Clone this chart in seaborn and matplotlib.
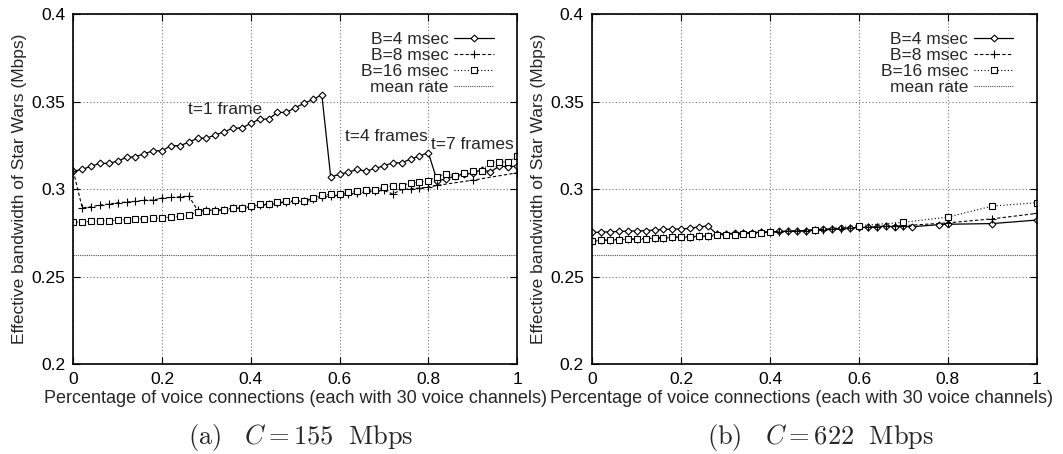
import numpy as np
import pandas as pd
import matplotlib
matplotlib.use("Agg")
import matplotlib.pyplot as plt
from matplotlib.ticker import FuncFormatter
import seaborn as sns

# ---- datos ----
x_dense = [round(0.02 * i, 2) for i in range(51)]

# (a) C = 155 Mbps
a_b4 = [0.3103, 0.3112, 0.3131, 0.3147, 0.3147, 0.3160, 0.3181, 0.3185, 0.3202, 0.3219,
        0.3219, 0.3248, 0.3248, 0.3267, 0.3291, 0.3291, 0.3309, 0.3328, 0.3347, 0.3350,
        0.3375, 0.3400, 0.3400, 0.3438, 0.3438, 0.3465, 0.3490, 0.3512, 0.3539,
        0.3070, 0.3084, 0.3097, 0.3112, 0.3103, 0.3118, 0.3133, 0.3150, 0.3150, 0.3171,
        0.3189, 0.3208,
        0.3048, 0.3057, 0.3075, 0.3085, 0.3090, 0.3110, 0.3099, 0.3131, 0.3128, 0.3131]
a_b8_x = [round(0.02 * i, 2) for i in range(42)] + [0.9, 1.0]
a_b8 = [0.3103, 0.2893, 0.2899, 0.2909, 0.2914, 0.2922, 0.2926, 0.2930, 0.2937, 0.2937,
        0.2949, 0.2952, 0.2956, 0.2960,
        0.2880, 0.2880, 0.2880, 0.2882, 0.2890, 0.2893, 0.2900, 0.2910, 0.2912, 0.2920,
        0.2926, 0.2932, 0.2934, 0.2942, 0.2955, 0.2962, 0.2966, 0.2972, 0.2978, 0.2985,
        0.2990, 0.2992, 0.2972, 0.2998, 0.3002, 0.3006, 0.3011, 0.3021,
        0.3051, 0.3093]
a_b16 = [0.2810, 0.2813, 0.2815, 0.2817, 0.2819, 0.2823, 0.2825, 0.2829, 0.2830, 0.2832,
         0.2836, 0.2840, 0.2844, 0.2851, 0.2870, 0.2876, 0.2876, 0.2880, 0.2893, 0.2893,
         0.2903, 0.2912, 0.2914, 0.2924, 0.2930, 0.2937, 0.2933, 0.2947, 0.2966, 0.2970,
         0.2970, 0.2981, 0.2990, 0.2994, 0.2993, 0.3013, 0.3017, 0.3020, 0.3035, 0.3039,
         0.3049, 0.3070, 0.3089, 0.3076, 0.3090, 0.3105, 0.3105, 0.3151, 0.3156, 0.3153,
         0.3187]

# (b) C = 622 Mbps
b_b4_x = [round(0.02 * i, 2) for i in range(37)] + [0.78, 0.8, 0.9, 1.0]
b_b4 = [0.2752, 0.2754, 0.2756, 0.2758, 0.2760, 0.2761, 0.2763, 0.2766, 0.2770, 0.2771,
        0.2773, 0.2775, 0.2785, 0.2789,
        0.2743, 0.2745, 0.2747, 0.2749, 0.2751, 0.2754, 0.2756, 0.2758, 0.2760, 0.2761,
        0.2763, 0.2768, 0.2770, 0.2772, 0.2775, 0.2779, 0.2781, 0.2781, 0.2785, 0.2789,
        0.2783, 0.2787, 0.2785,
        0.2797, 0.2799, 0.2803, 0.2823]
b_b8_x = [round(0.02 * i, 2) for i in range(36)] + [0.8, 0.9, 1.0]
b_b8 = [0.2706, 0.2708, 0.2710, 0.2712, 0.2714, 0.2716, 0.2718, 0.2720, 0.2723, 0.2725,
        0.2727, 0.2729, 0.2731, 0.2733,
        0.2742, 0.2744, 0.2746, 0.2748, 0.2750, 0.2753, 0.2755, 0.2757, 0.2759, 0.2761,
        0.2763, 0.2767, 0.2769, 0.2771, 0.2774, 0.2778, 0.2781, 0.2782, 0.2785, 0.2788,
        0.2789, 0.2791,
        0.2807, 0.2830, 0.2861]
b_b16_x = [round(0.02 * i, 2) for i in range(21)] + [0.5, 0.6, 0.7, 0.8, 0.9, 1.0]
b_b16 = [0.2705, 0.2707, 0.2709, 0.2711, 0.2713, 0.2715, 0.2717, 0.2719, 0.2722, 0.2724,
         0.2726, 0.2728, 0.2730, 0.2732, 0.2736, 0.2738, 0.2739, 0.2741, 0.2745, 0.2751,
         0.2753, 0.2766, 0.2791, 0.2810, 0.2840, 0.2903, 0.2922]

mean_rate = 0.2623

labels = ["B=4 msec", "B=8 msec", "B=16 msec", "mean rate"]

sns.set_style("ticks")
plt.rcParams['font.family'] = ['Liberation Sans', 'DejaVu Sans']
plt.rcParams['mathtext.fontset'] = 'cm'

fig = plt.figure(figsize=(10.63, 4.54), dpi=100)
ax1 = fig.add_axes([0.069, 0.198, 0.4174, 0.771])
ax2 = fig.add_axes([0.5572, 0.198, 0.4181, 0.771])


def dibujar(ax, x4, y4, x8, y8, x16, y16, xlab_pos):
    sns.lineplot(x=x4, y=y4, ax=ax, color='black', lw=0.9, marker='D', ms=3.5,
                 mfc='white', mec='black', mew=0.8, label=labels[0], sort=False)
    sns.lineplot(x=x8, y=y8, ax=ax, color='black', lw=0.8, linestyle=(0, (3, 2)), marker='+',
                 ms=6, mec='black', mew=0.8, label=labels[1], sort=False)
    sns.lineplot(x=x16, y=y16, ax=ax, color='black', lw=0.8, linestyle=(0, (1, 2)), marker='s',
                 ms=4.5, mfc='white', mec='black', mew=0.8, label=labels[2], sort=False)
    sns.lineplot(x=[0, 1], y=[mean_rate, mean_rate], ax=ax, color='0.3', lw=0.8,
                 linestyle=(0, (1, 1)), label=labels[3])

    ax.set_xlim(0, 1)
    ax.set_ylim(0.2, 0.4)
    ax.set_xticks([0, 0.2, 0.4, 0.6, 0.8, 1.0])
    ax.set_yticks([0.2, 0.25, 0.3, 0.35, 0.4])
    fmt = FuncFormatter(lambda v, p: '%g' % round(v, 3))
    ax.xaxis.set_major_formatter(fmt)
    ax.yaxis.set_major_formatter(fmt)
    ax.grid(True, linestyle=(0, (1, 2)), color='0.45', linewidth=0.8)
    ax.tick_params(direction='in', length=5, width=0.8, top=True, right=True,
                   labelsize=12.5, pad=6, colors='black')
    for s in ax.spines.values():
        s.set_visible(True)
        s.set_linewidth(1.2)
        s.set_color('black')
    ax.set_xlabel("Percentage of voice connections (each with 30 voice channels)",
                  fontsize=13)
    ax.xaxis.set_label_coords(xlab_pos, -0.075)
    ax.set_ylabel("Effective bandwidth of Star Wars (Mbps)", fontsize=12.5, labelpad=3)
    ax.legend(loc='upper right', bbox_to_anchor=(0.975, 0.985), frameon=False,
              markerfirst=False, handlelength=2.3, handletextpad=0.3,
              labelspacing=0.05, fontsize=12.5, borderpad=0.2)


dibujar(ax1, x_dense, a_b4, a_b8_x, a_b8, x_dense, a_b16, 0.5)
dibujar(ax2, b_b4_x, b_b4, b_b8_x, b_b8, b_b16_x, b_b16, 0.47)

ax1.text(0.258, 0.3457, "t=1 frame", fontsize=12.5, va='center', ha='left')
ax1.text(0.612, 0.3303, "t=4 frames", fontsize=12.5, va='center', ha='left')
ax1.text(0.806, 0.3257, "t=7 frames", fontsize=12.5, va='center', ha='left')

fig.text(0.283, 0.036, r"$\mathrm{(a)}\quad C = 155\ \ \mathrm{Mbps}$", fontsize=19, ha='center', va='center')
fig.text(0.772, 0.036, r"$\mathrm{(b)}\quad C = 622\ \ \mathrm{Mbps}$", fontsize=19, ha='center', va='center')

fig.savefig("out.png", dpi=100)
